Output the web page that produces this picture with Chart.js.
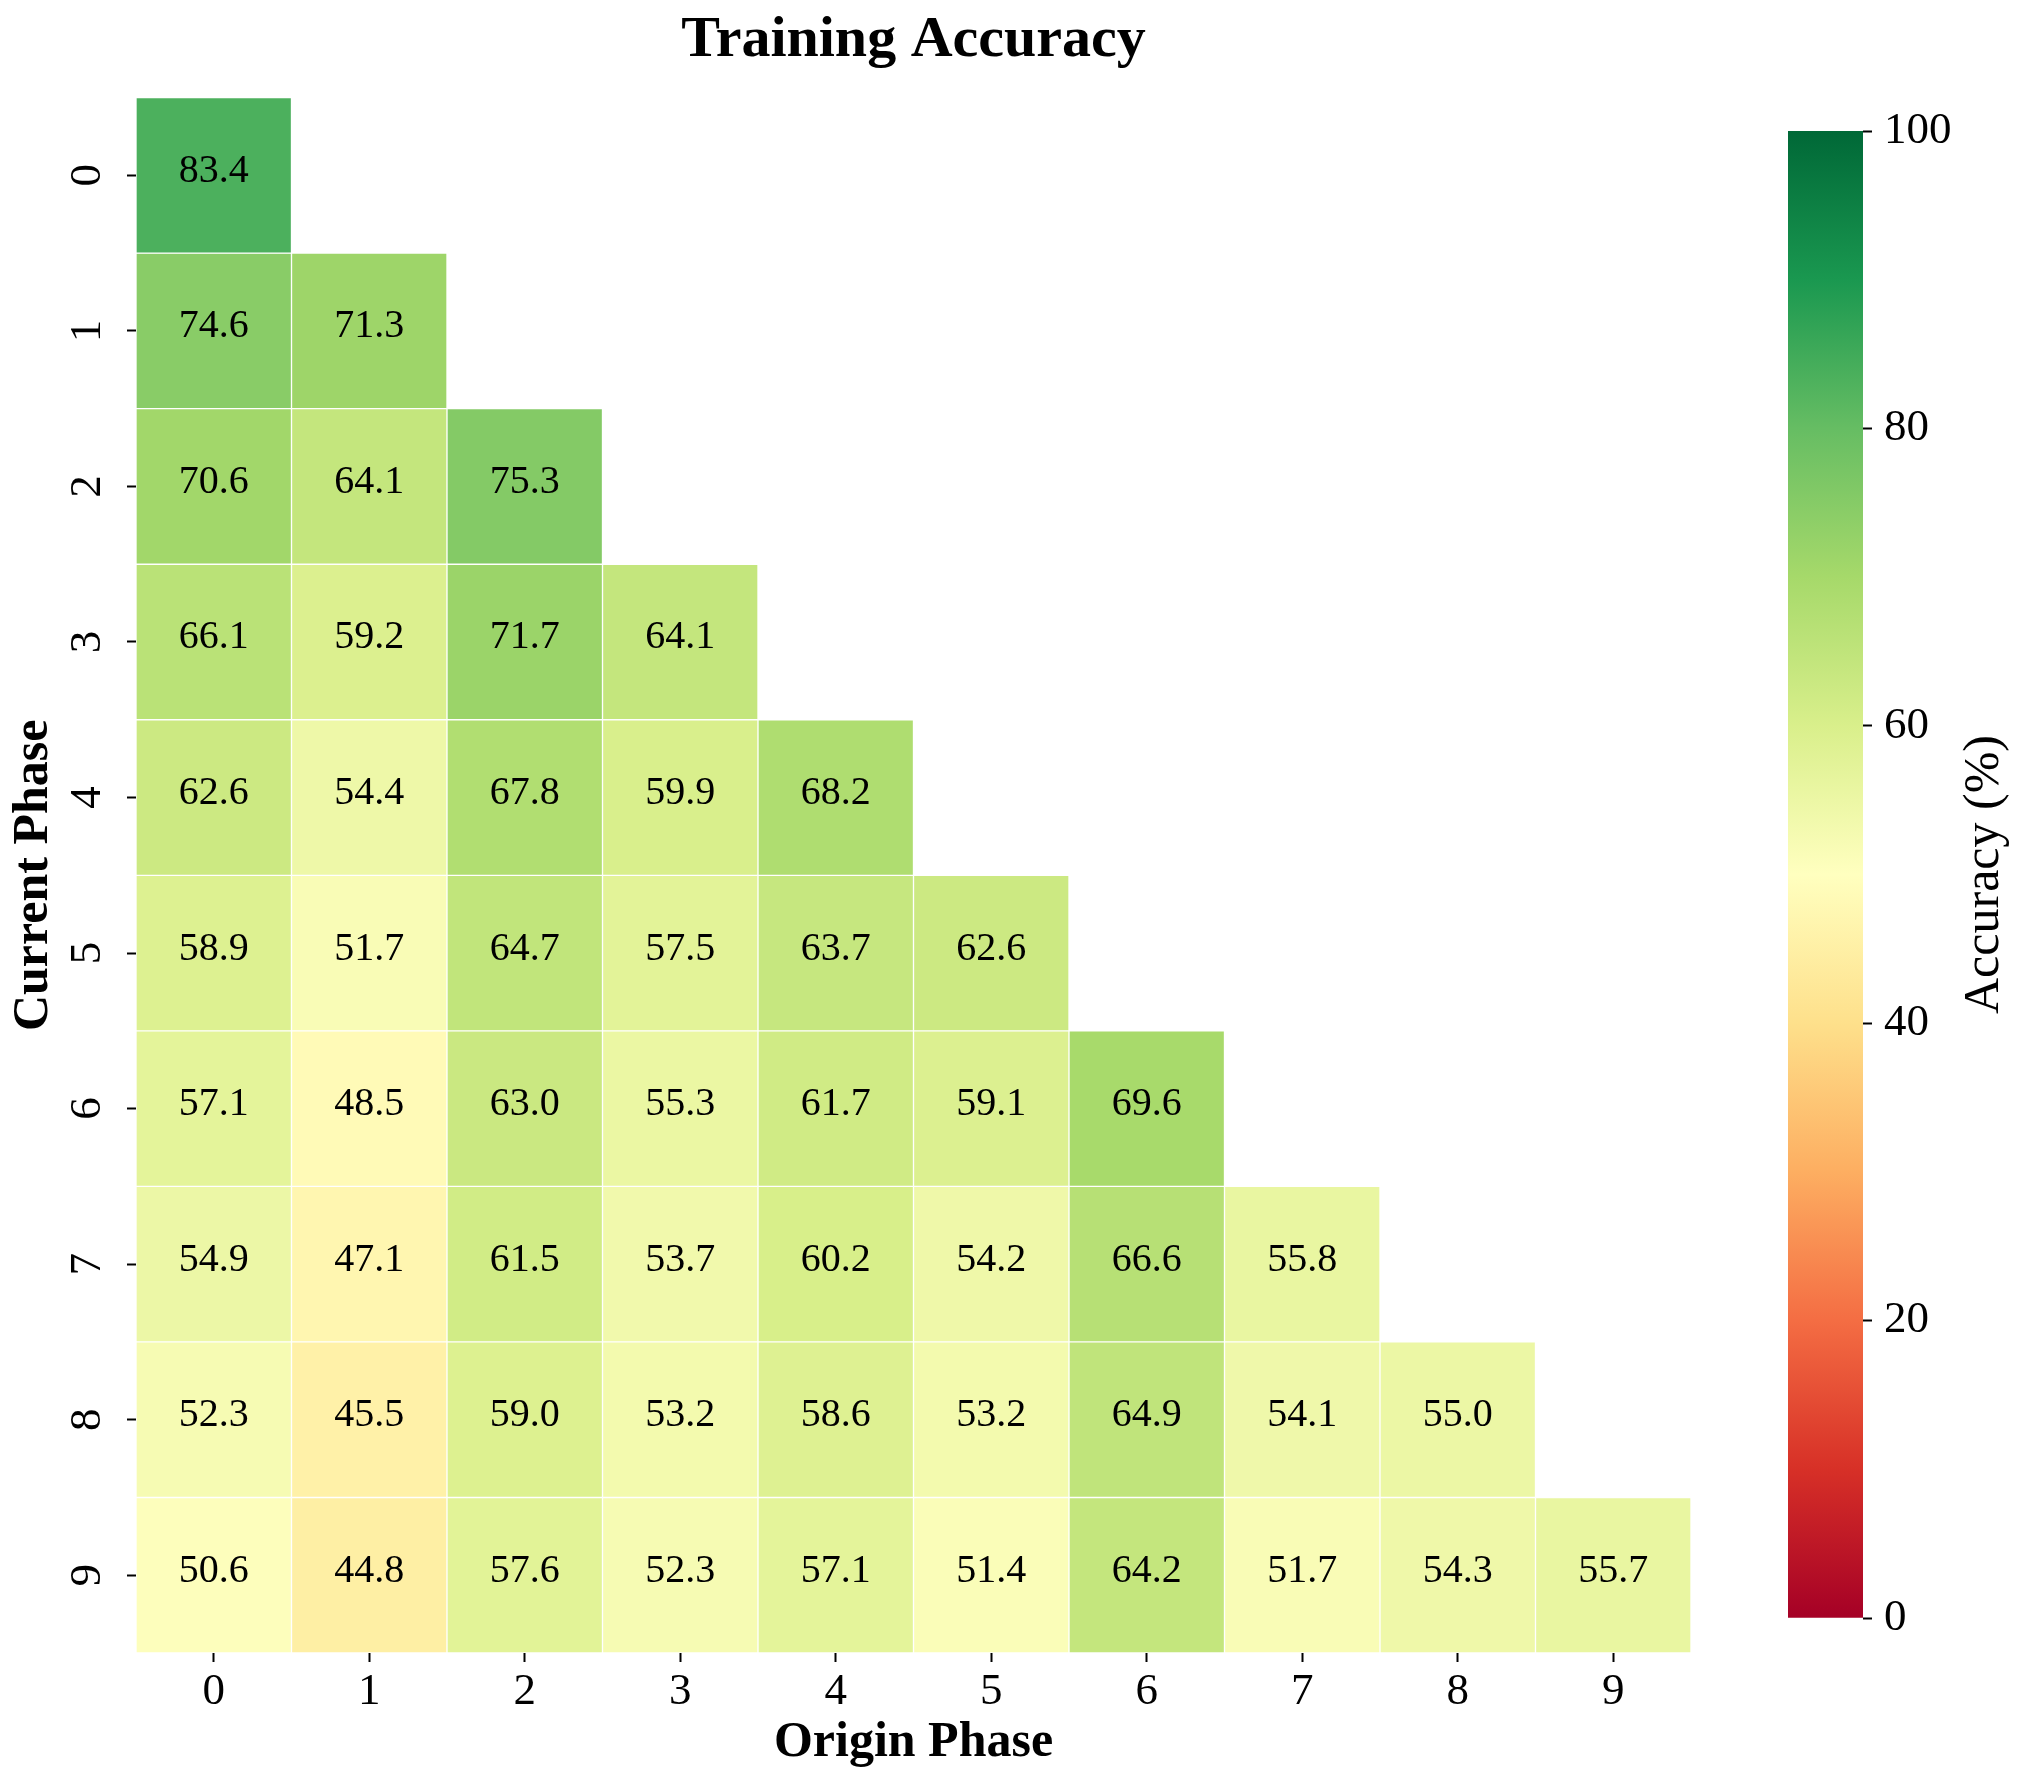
<!DOCTYPE html>
<html>
<head>
<meta charset="utf-8">
<title>Training Accuracy</title>
<script src="https://cdn.jsdelivr.net/npm/chart.js@4.4.1/dist/chart.umd.min.js"></script>
<style>
  html, body { margin: 0; padding: 0; background: #fff; overflow: hidden; }
  #wrap { position: relative; width: 2027px; height: 1789px; }
  #heatmap { position: absolute; left: 0; top: 0; }
  #colorbar { position: absolute; left: 1700px; top: 0; }
</style>
</head>
<body>
<div id="wrap">
  <canvas id="heatmap" width="2027" height="1789"></canvas>
  <canvas id="colorbar" width="327" height="1789"></canvas>
</div>
<script>
// axis labels
const originPhases = ["0", "1", "2", "3", "4", "5", "6", "7", "8", "9"];
const currentPhases = ["0", "1", "2", "3", "4", "5", "6", "7", "8", "9"];

// accuracy (%) per current phase, one value per origin phase so far
const phase0 = [83.4];
const phase1 = [74.6, 71.3];
const phase2 = [70.6, 64.1, 75.3];
const phase3 = [66.1, 59.2, 71.7, 64.1];
const phase4 = [62.6, 54.4, 67.8, 59.9, 68.2];
const phase5 = [58.9, 51.7, 64.7, 57.5, 63.7, 62.6];
const phase6 = [57.1, 48.5, 63.0, 55.3, 61.7, 59.1, 69.6];
const phase7 = [54.9, 47.1, 61.5, 53.7, 60.2, 54.2, 66.6, 55.8];
const phase8 = [52.3, 45.5, 59.0, 53.2, 58.6, 53.2, 64.9, 54.1, 55.0];
const phase9 = [50.6, 44.8, 57.6, 52.3, 57.1, 51.4, 64.2, 51.7, 54.3, 55.7];
const accuracy = [phase0, phase1, phase2, phase3, phase4, phase5, phase6, phase7, phase8, phase9];

const colorbarTicks = [0, 20, 40, 60, 80, 100];

// RdYlGn colormap stops
const rdYlGn = ["#a50026", "#d73027", "#f46d43", "#fdae61", "#fee08b", "#ffffbf",
                "#d9ef8b", "#a6d96a", "#66bd63", "#1a9850", "#006837"];

function hexToRgb(h) {
    return [parseInt(h.slice(1, 3), 16), parseInt(h.slice(3, 5), 16), parseInt(h.slice(5, 7), 16)];
}

function colorFor(v) {
    const t = Math.min(Math.max(v / 100, 0), 1) * (rdYlGn.length - 1);
    const i = Math.min(Math.floor(t), rdYlGn.length - 2);
    const f = t - i;
    const a = hexToRgb(rdYlGn[i]);
    const b = hexToRgb(rdYlGn[i + 1]);
    const c = a.map((x, k) => Math.round(x + (b[k] - x) * f));
    return `rgb(${c[0]}, ${c[1]}, ${c[2]})`;
}

Chart.defaults.font.family = "'Liberation Serif', 'Times New Roman', serif";
Chart.defaults.color = "#000";

// writes the value in the middle of each cell
const cellLabels = {
    id: "cellLabels",
    afterDatasetsDraw(chart) {
        const ctx = chart.ctx;
        ctx.save();
        ctx.font = "40px 'Liberation Serif', serif";
        ctx.fillStyle = "#000";
        ctx.textAlign = "center";
        ctx.textBaseline = "middle";
        chart.data.datasets.forEach((ds, r) => {
            const meta = chart.getDatasetMeta(r);
            meta.data.forEach((bar, c) => {
                if (c >= accuracy[r].length) return;
                const p = bar.getCenterPoint();
                ctx.fillText(accuracy[r][c].toFixed(1), p.x, p.y - 4);
            });
        });
        ctx.restore();
    }
};

new Chart(document.getElementById("heatmap"), {
    type: "bar",
    data: {
        labels: originPhases,
        datasets: accuracy.map((row, r) => ({
            label: "Current phase " + currentPhases[r],
            data: originPhases.map((_, c) => c < row.length ? [r, r + 1] : null),
            backgroundColor: originPhases.map((_, c) => c < row.length ? colorFor(row[c]) : "rgba(0,0,0,0)"),
            borderColor: "#ffffff",
            borderWidth: 1,
            borderSkipped: false,
            grouped: false,
            barPercentage: 1,
            categoryPercentage: 1
        }))
    },
    options: {
        responsive: false,
        devicePixelRatio: 1,
        animation: false,
        layout: { padding: { left: 0, top: 0, right: 336, bottom: 0 } },
        plugins: {
            legend: { display: false },
            tooltip: { enabled: false },
            title: {
                display: true,
                text: "Training Accuracy",
                fullSize: false,
                color: "#000",
                font: { size: 58, weight: "bold" },
                padding: { top: 6, bottom: 22 }
            }
        },
        scales: {
            x: {
                type: "category",
                offset: true,
                afterFit: (scale) => { scale.height = 136; },
                ticks: { padding: 3, font: { size: 45 }, maxRotation: 0, autoSkip: false },
                grid: { offset: false, drawOnChartArea: false, tickLength: 9, tickWidth: 2, tickColor: "#000" },
                border: { display: false },
                title: {
                    display: true,
                    text: "Origin Phase",
                    font: { size: 50, weight: "bold" },
                    padding: { top: 0, bottom: 16 }
                }
            },
            y: {
                type: "linear",
                min: 0,
                max: 10,
                reverse: true,
                afterBuildTicks: (scale) => { scale.ticks = currentPhases.map((_, i) => ({ value: i + 0.5 })); },
                afterFit: (scale) => { scale.width = 136; },
                ticks: {
                    autoSkip: false,
                    minRotation: 90,
                    maxRotation: 90,
                    crossAlign: "center",
                    padding: 28,
                    font: { size: 45 },
                    callback: (v, i) => currentPhases[i]
                },
                grid: { drawOnChartArea: false, tickLength: 9, tickWidth: 2, tickColor: "#000" },
                border: { display: false },
                title: {
                    display: true,
                    text: "Current Phase",
                    font: { size: 50, weight: "bold" },
                    padding: { top: 4, bottom: 0 }
                }
            }
        }
    },
    plugins: [cellLabels]
});

// colorbar label reads bottom to top
const colorbarLabel = {
    id: "colorbarLabel",
    afterDraw(chart) {
        const { ctx, chartArea } = chart;
        ctx.save();
        ctx.translate(285, (chartArea.top + chartArea.bottom) / 2);
        ctx.rotate(-Math.PI / 2);
        ctx.font = "50px 'Liberation Serif', serif";
        ctx.fillStyle = "#000";
        ctx.textAlign = "center";
        ctx.textBaseline = "middle";
        ctx.fillText("Accuracy (%)", 0, 0);
        ctx.restore();
    }
};

new Chart(document.getElementById("colorbar"), {
    type: "bar",
    data: {
        labels: ["Accuracy (%)"],
        datasets: [{
            data: [[colorbarTicks[0], colorbarTicks[colorbarTicks.length - 1]]],
            backgroundColor: (context) => {
                const chart = context.chart;
                const y = chart.scales.y;
                if (!chart.chartArea || !y) return rdYlGn[5];
                const g = chart.ctx.createLinearGradient(0, y.getPixelForValue(0), 0, y.getPixelForValue(100));
                rdYlGn.forEach((c, i) => g.addColorStop(i / (rdYlGn.length - 1), c));
                return g;
            },
            borderWidth: 0,
            barPercentage: 1,
            categoryPercentage: 1
        }]
    },
    options: {
        responsive: false,
        devicePixelRatio: 1,
        animation: false,
        layout: { padding: { left: 88, top: 131, right: 0, bottom: 171 } },
        plugins: {
            legend: { display: false },
            tooltip: { enabled: false }
        },
        scales: {
            x: { display: false },
            y: {
                position: "right",
                min: 0,
                max: 100,
                afterBuildTicks: (scale) => { scale.ticks = colorbarTicks.map(v => ({ value: v })); },
                afterFit: (scale) => { scale.width = 164; },
                ticks: { padding: 12, font: { size: 45 } },
                grid: { drawOnChartArea: false, tickLength: 9, tickWidth: 2, tickColor: "#000" },
                border: { display: false }
            }
        }
    },
    plugins: [colorbarLabel]
});
</script>
</body>
</html>
